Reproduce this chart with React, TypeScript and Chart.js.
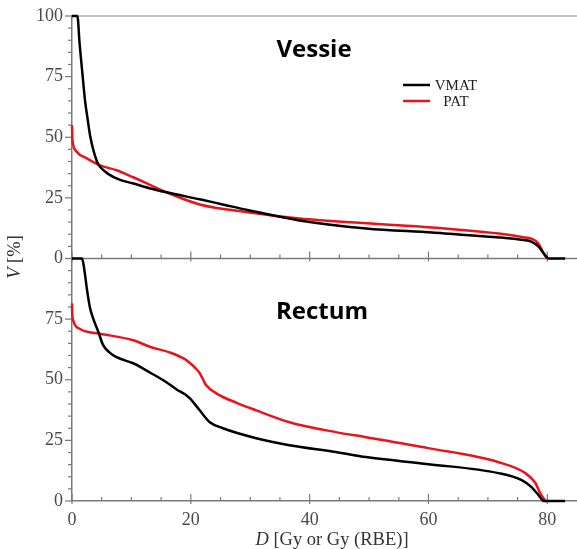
import React, { useEffect, useRef } from "react";
import { Chart, registerables } from "chart.js";

Chart.register(...registerables);

// ---- Data ----
const xTicks = [0, 20, 40, 60, 80];
const yTicks = [0, 25, 50, 75, 100];
const panelTitles = ["Vessie", "Rectum"];
const seriesNames = ["VMAT", "PAT"];

const vessieVmatDose = [0, 0.9, 1.3, 1.8, 2.2, 2.6, 3.1, 4.2, 4.8, 6, 8, 10.2, 13, 15.9, 21.5, 25, 29.9, 38.3, 49.5, 60.6, 71.8, 76, 77.3, 78.5, 79.3, 80.2, 83];
const vessieVmatVol = [100, 100, 88, 75, 65, 58, 50, 40, 37.6, 35, 32.5, 31, 29, 27.3, 24.4, 22.5, 19.8, 15.7, 12.4, 10.7, 8.7, 7.6, 7, 5, 2.5, 0, 0];

const vessiePatDose = [0, 0.05, 0.15, 0.8, 2.5, 4.7, 7.5, 10.3, 12.6, 15.9, 21.5, 29.9, 38.3, 49.5, 60.6, 71.8, 76, 77.3, 78.5, 79.4, 80];
const vessiePatVol = [55, 50, 47.5, 44, 41.3, 38.4, 36.4, 33.5, 31, 27.3, 22.3, 19, 16.5, 14.5, 12.8, 10.3, 8.8, 8.2, 6.2, 2, 0];

const rectumVmatDose = [0, 1.7, 2.1, 2.5, 3.0, 3.5, 4.4, 5.2, 6.2, 7.5, 10.3, 13.1, 15.9, 17.6, 19, 19.8, 21.5, 23.2, 25.4, 31, 36.6, 44.4, 49.5, 60, 71.8, 75.7, 77.3, 78.5, 79.4, 83];
const rectumVmatVol = [100, 100, 95, 87.6, 80, 75.7, 70, 64.5, 61.5, 59.3, 56.8, 53, 49, 46, 44, 42.4, 37.4, 32.5, 30, 25.9, 23, 20.2, 18.1, 15.2, 11.5, 8.6, 5.8, 2.5, 0, 0];

const rectumPatDose = [0, 0.05, 0.2, 1.3, 4.7, 10.3, 13.1, 16.4, 19, 19.8, 20.9, 21.5, 22.6, 24.3, 27.7, 31, 36.6, 44.4, 49.5, 60, 71.8, 76.3, 78, 78.8, 79.7];
const rectumPatVol = [81.5, 77, 74.5, 71, 69, 66.3, 63.6, 61.3, 58.5, 57, 54.5, 52.7, 47.7, 44.4, 40.5, 37.4, 32.5, 28.4, 26.3, 21.8, 16, 11.5, 7.4, 3.3, 0];

const BLACK = "#000000";
const RED = "#e8141b";
const AXIS = "#7a7a7a";
const TICKTXT = "#4a4a4a";
const SERIF = '"Liberation Serif", "Times New Roman", serif';
const SANS = '"Open Sans", "Noto Sans", sans-serif';

const pts = (xs: number[], ys: number[]) => xs.map((x, i) => ({ x, y: ys[i] }));

const decorPlugin = {
  id: "decor",
  beforeDatasetsDraw(chart: any) {
    const { ctx, chartArea, scales } = chart;
    const x = scales.x;
    const yTop = scales.yTop;
    const yBot = scales.yBot;
    const left = chartArea.left;
    const right = chartArea.right;
    ctx.save();
    // frame top line
    ctx.strokeStyle = "#b0b0b0";
    ctx.lineWidth = 1.5;
    ctx.beginPath();
    ctx.moveTo(left, yTop.top);
    ctx.lineTo(right, yTop.top);
    ctx.stroke();
    // top panel x-axis line
    ctx.strokeStyle = AXIS;
    ctx.beginPath();
    ctx.moveTo(left, yTop.bottom);
    ctx.lineTo(right, yTop.bottom);
    ctx.stroke();
    // y ticks (outward)
    ctx.lineWidth = 1.2;
    for (const sc of [yTop, yBot]) {
      for (let v = 0; v <= 100; v += 5) {
        const py = sc.getPixelForValue(v);
        const len = v % 25 === 0 ? 7 : 4;
        ctx.beginPath();
        ctx.moveTo(left - len, py);
        ctx.lineTo(left, py);
        ctx.stroke();
      }
    }
    // x ticks (inward) on both panel baselines
    for (const base of [yTop.bottom, yBot.bottom]) {
      for (let d = 0; d <= 80; d += 5) {
        const px = x.getPixelForValue(d);
        const major = d % 20 === 0;
        const up = major ? 7 : 4;
        ctx.beginPath();
        ctx.moveTo(px, base - up);
        ctx.lineTo(px, base + (major ? 3 : 0));
        ctx.stroke();
      }
    }
    ctx.restore();
  },
  afterDraw(chart: any) {
    const { ctx, scales } = chart;
    const yTop = scales.yTop;
    const yBot = scales.yBot;
    ctx.save();
    // panel titles
    ctx.fillStyle = "#000";
    ctx.font = `bold 24px ${SANS}`;
    ctx.textAlign = "center";
    ctx.textBaseline = "alphabetic";
    ctx.fillText(panelTitles[0], 314, yTop.top + 41);
    ctx.fillText(panelTitles[1], 322, yBot.top + 60);

    // legend
    const lx0 = 403, lx1 = 430;
    const rows = [
      { y: 85, color: BLACK, name: seriesNames[0] },
      { y: 101, color: RED, name: seriesNames[1] },
    ];
    ctx.font = `15px ${SERIF}`;
    ctx.textBaseline = "middle";
    for (const r of rows) {
      ctx.strokeStyle = r.color;
      ctx.lineWidth = 2.5;
      ctx.beginPath();
      ctx.moveTo(lx0, r.y);
      ctx.lineTo(lx1, r.y);
      ctx.stroke();
      ctx.fillStyle = "#222";
      ctx.textAlign = "center";
      ctx.fillText(r.name, 456, r.y + 1);
    }

    // x axis title
    ctx.fillStyle = "#333";
    ctx.textBaseline = "middle";
    ctx.textAlign = "left";
    const italic = `italic 18.5px ${SERIF}`;
    const normal = `18.5px ${SERIF}`;
    ctx.font = italic;
    const wD = ctx.measureText("D").width;
    ctx.font = normal;
    const restX = " [Gy or Gy (RBE)]";
    const wR = ctx.measureText(restX).width;
    const cx = 332;
    let sx = cx - (wD + wR) / 2;
    ctx.font = italic;
    ctx.fillText("D", sx, 540);
    ctx.font = normal;
    ctx.fillText(restX, sx + wD, 540);

    // y axis title (rotated)
    ctx.translate(15, 257);
    ctx.rotate(-Math.PI / 2);
    ctx.font = italic;
    const wV = ctx.measureText("V").width;
    ctx.font = normal;
    const restY = " [%]";
    const wY = ctx.measureText(restY).width;
    sx = -(wV + wY) / 2;
    ctx.font = italic;
    ctx.fillText("V", sx, 0);
    ctx.font = normal;
    ctx.fillText(restY, sx + wV, 0);
    ctx.restore();
  },
};

export default function App() {
  const ref = useRef<HTMLCanvasElement | null>(null);

  useEffect(() => {
    if (!ref.current) return;
    const tickFont = { family: SERIF, size: 18 };
    const yScale = (hide100: boolean) => ({
      type: "linear" as const,
      position: "left" as const,
      stack: "v",
      stackWeight: 1,
      min: 0,
      max: 100,
      grid: { display: false, drawTicks: false },
      border: { display: true, color: AXIS, width: 1.5 },
      ticks: {
        stepSize: 25,
        padding: 9,
        color: TICKTXT,
        font: tickFont,
        callback: (v: any) => (yTicks.includes(v) && !(hide100 && v === 100) ? String(v) : ""),
      },
      afterFit: (s: any) => {
        s.width = 72;
        s.paddingTop = 0;
        s.paddingBottom = 0;
      },
    });
    const ds = (label: string, xs: number[], ys: number[], color: string, axis: string) => ({
      label,
      data: pts(xs, ys),
      borderColor: color,
      backgroundColor: color,
      borderWidth: 2.5,
      pointRadius: 0,
      cubicInterpolationMode: "monotone" as const,
      xAxisID: "x",
      yAxisID: axis,
      clip: 3,
    });
    const chart = new Chart(ref.current, {
      type: "line",
      data: {
        datasets: [
          ds(seriesNames[0], vessieVmatDose, vessieVmatVol, BLACK, "yTop"),
          ds(seriesNames[1], vessiePatDose, vessiePatVol, RED, "yTop"),
          ds(seriesNames[0], rectumVmatDose, rectumVmatVol, BLACK, "yBot"),
          ds(seriesNames[1], rectumPatDose, rectumPatVol, RED, "yBot"),
        ],
      },
      options: {
        animation: false,
        responsive: false,
        maintainAspectRatio: false,
        layout: { padding: { top: 16, right: 0, left: 0, bottom: 0 } },
        plugins: { legend: { display: false }, tooltip: { enabled: false } },
        elements: { point: { radius: 0 } },
        scales: {
          x: {
            type: "linear",
            min: 0,
            max: 85,
            grid: { display: false, drawTicks: false },
            border: { display: true, color: AXIS, width: 1.5 },
            ticks: {
              stepSize: 20,
              includeBounds: false,
              padding: 8,
              maxRotation: 0,
              autoSkip: false,
              color: TICKTXT,
              font: tickFont,
              callback: (v: any) => (xTicks.includes(v) ? String(v) : ""),
            },
            afterFit: (s: any) => {
              s.height = 48;
              s.paddingLeft = 0;
              s.paddingRight = 0;
            },
          },
          yBot: yScale(true),
          yTop: yScale(false),
        } as any,
      },
      plugins: [decorPlugin],
    });
    return () => chart.destroy();
  }, []);

  return (
    <div style={{ position: "fixed", left: 0, top: 0, width: 577, height: 549, background: "#fff" }}>
      <canvas ref={ref} width={577} height={549} style={{ display: "block", width: 577, height: 549 }} />
    </div>
  );
}
